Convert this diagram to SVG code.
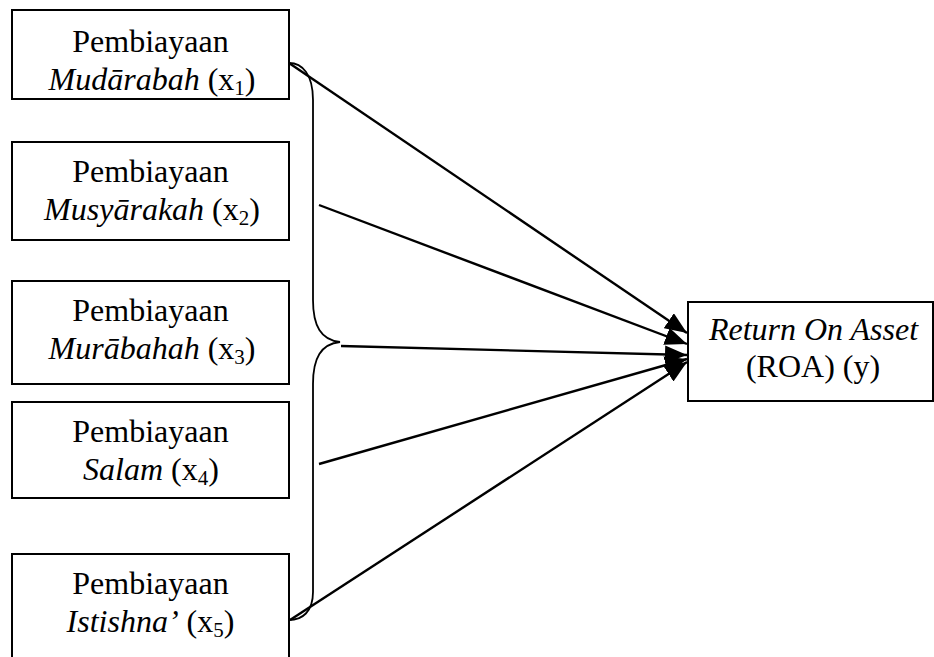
<svg xmlns="http://www.w3.org/2000/svg" width="934" height="657" viewBox="0 0 934 657">
<style>
.box{fill:#fff;stroke:#000;stroke-width:2}
.t{font-family:"Liberation Serif",serif;font-size:32px;fill:#000;text-anchor:middle}
.i{font-style:italic}
.s{font-size:21px}
.c{fill:none;stroke:#000;stroke-width:2.4}
.b{fill:none;stroke:#000;stroke-width:1.8}
</style>
<defs>
<marker id="ah" markerUnits="userSpaceOnUse" markerWidth="24" markerHeight="18" refX="22" refY="9" orient="auto">
<path d="M0,0 L22,9 L0,18 Z" fill="#000"/>
</marker>
</defs>
<rect width="934" height="657" fill="#fff"/>
<g id="x1">
<rect class="box" x="12" y="10" width="277" height="89"/>
<text class="t" x="150.5" y="52">Pembiayaan</text>
<text class="t" x="152" y="90"><tspan class="i">Mudārabah</tspan> (x<tspan class="s" dy="5">1</tspan><tspan dy="-5">)</tspan></text>
</g>
<g id="x2">
<rect class="box" x="12" y="142" width="277" height="98"/>
<text class="t" x="150.5" y="182">Pembiayaan</text>
<text class="t" x="152" y="220"><tspan class="i">Musyārakah</tspan> (x<tspan class="s" dy="5">2</tspan><tspan dy="-5">)</tspan></text>
</g>
<g id="x3">
<rect class="box" x="12" y="281" width="277" height="103"/>
<text class="t" x="150.5" y="321">Pembiayaan</text>
<text class="t" x="152" y="359"><tspan class="i">Murābahah</tspan> (x<tspan class="s" dy="5">3</tspan><tspan dy="-5">)</tspan></text>
</g>
<g id="x4">
<rect class="box" x="12" y="402" width="277" height="96"/>
<text class="t" x="150.5" y="442">Pembiayaan</text>
<text class="t" x="151" y="480"><tspan class="i">Salam</tspan> (x<tspan class="s" dy="5">4</tspan><tspan dy="-5">)</tspan></text>
</g>
<g id="x5">
<rect class="box" x="12" y="554" width="277" height="120"/>
<text class="t" x="150.5" y="594">Pembiayaan</text>
<text class="t" x="150.5" y="632"><tspan class="i">Istishna’</tspan> (x<tspan class="s" dy="5">5</tspan><tspan dy="-5">)</tspan></text>
</g>
<g id="y">
<rect class="box" x="688" y="302" width="245" height="99"/>
<text class="t i" x="813.5" y="340">Return On Asset</text>
<text class="t" x="813" y="377">(ROA) (y)</text>
</g>
<g id="connectors">
<path class="b" d="M289,63 C302,63 313,74 313,100 L313,300 C313,326 321,340 340,342 C321,344 313,358 313,384 L313,592 C313,612 302,620 289,620"/>
<path class="c" d="M289,63 L687,333" marker-end="url(#ah)"/>
<path class="c" d="M319,205 L687,344" marker-end="url(#ah)"/>
<path class="c" d="M341,346 L687,355" marker-end="url(#ah)"/>
<path class="c" d="M319,464 L687,359" marker-end="url(#ah)"/>
<path class="c" d="M290,620 L687,362" marker-end="url(#ah)"/>
</g>
</svg>
